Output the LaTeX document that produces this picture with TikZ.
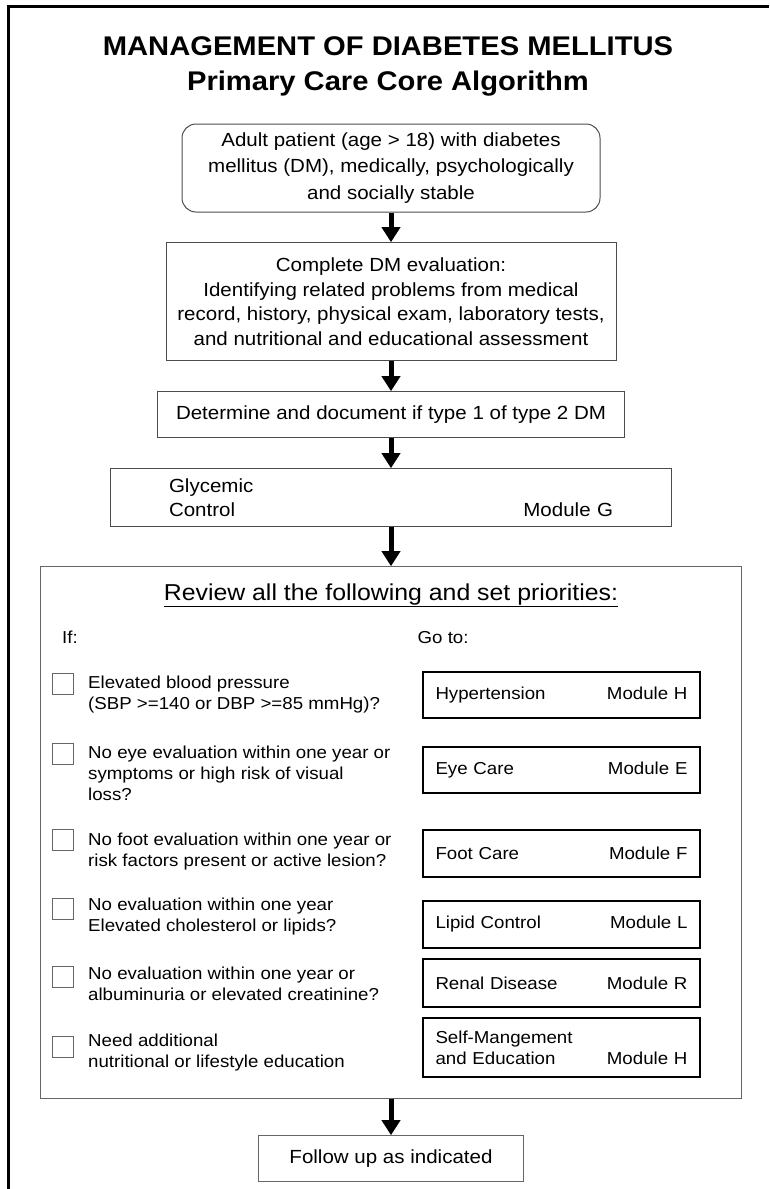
\documentclass[tikz,border=0pt]{standalone}
\usepackage{fontspec}
\setmainfont[FakeStretch=1.08]{Liberation Sans}
\usepackage{tikz}
\usetikzlibrary{arrows.meta,positioning}

\begin{document}
\begin{tikzpicture}[
    x=1pt, y=-1pt,
    box/.style={draw=black!70, line width=1pt, align=center, inner sep=0pt, font=\fontsize{19}{24.7}\selectfont},
    modbox/.style={draw=black, line width=1.8pt, align=left, text width=252pt, inner xsep=12.5pt, inner ysep=0pt, minimum height=46pt, font=\fontsize{17.3}{21}\selectfont},
    chk/.style={draw=black!60, line width=0.8pt, minimum size=21pt, inner sep=0pt},
    cond/.style={anchor=west, align=left, inner sep=0pt, font=\fontsize{17.3}{21}\selectfont},
    arr/.style={-{Triangle[width=18pt,length=15pt]}, line width=5pt},
    node distance=30pt
]
\useasboundingbox (0,0) rectangle (769,1189);
\draw[line width=3pt] (8,1189) -- (8,6) -- (769,6);

% title
\node[anchor=base, inner sep=0pt, font=\bfseries\fontsize{27}{36}\selectfont] (title) at (388,55) {MANAGEMENT OF DIABETES MELLITUS};
\node[anchor=base, inner sep=0pt, font=\bfseries\fontsize{27}{36}\selectfont] (subtitle) at (388,90) {Primary Care Core Algorithm};

% main chain
\node[box, rounded corners=14pt, minimum width=418pt, minimum height=88pt, font=\fontsize{19}{26.5}\selectfont] (patient) at (391,168) {Adult patient (age > 18) with diabetes\\mellitus (DM), medically, psychologically\\and socially stable};
\node[box, minimum width=450pt, minimum height=118pt, below=29.7pt of patient] (eval) {Complete DM evaluation:\\Identifying related problems from medical\\record, history, physical exam, laboratory tests,\\and nutritional and educational assessment};
\node[box, minimum width=467pt, minimum height=46pt, below=of eval] (type) {Determine and document if type 1 of type 2 DM};
\node[box, minimum width=561pt, minimum height=58pt, text width=444pt, align=left, below=of type] (glyc) {Glycemic\\Control\hfill Module G};
\node[draw=black!60, line width=1pt, minimum width=701pt, minimum height=532pt, below=39pt of glyc] (review) {};
\node[box, draw=black!60, minimum width=265pt, minimum height=46pt, below=36pt of review] (follow) {Follow up as indicated};

\draw[arr] (patient) -- (eval);
\draw[arr] (eval) -- (type);
\draw[arr] (type) -- (glyc);
\draw[arr] (glyc) -- (review);
\draw[arr] (review) -- (follow);

% review panel
\node[anchor=base, inner sep=0pt, font=\fontsize{23}{28}\selectfont] (head) at (391,600) {\underline{Review all the following and set priorities:}};
\node[cond, anchor=base west] (if) at (62,643) {If:};
\node[cond, anchor=base west] (goto) at (417.5,643) {Go to:};

\node[chk] (c1) at (62.5,683.5) {};
\node[cond] (q1) at (88,694.5) {Elevated blood pressure\\(SBP >=140 or DBP >=85 mmHg)?};
\node[modbox] (m1) at (561.5,695) {Hypertension\hfill Module H};

\node[chk] (c2) at (62.5,753.5) {};
\node[cond] (q2) at (88,773) {No eye evaluation within one year or\\symptoms or high risk of visual\\loss?};
\node[modbox] (m2) at (561.5,770) {Eye Care\hfill Module E};

\node[chk] (c3) at (62.5,840) {};
\node[cond] (q3) at (88,852) {No foot evaluation within one year or\\risk factors present or active lesion?};
\node[modbox, minimum height=47pt] (m3) at (561.5,853.5) {Foot Care\hfill Module F};

\node[chk] (c4) at (62.5,909) {};
\node[cond] (q4) at (88,917) {No evaluation within one year\\Elevated cholesterol or lipids?};
\node[modbox, minimum height=47pt] (m4) at (561.5,924.5) {Lipid Control\hfill Module L};

\node[chk] (c5) at (62.5,977) {};
\node[cond] (q5) at (88,984) {No evaluation within one year or\\albuminuria or elevated creatinine?};
\node[modbox, minimum height=48pt] (m5) at (561.5,983) {Renal Disease\hfill Module R};

\node[chk] (c6) at (62.5,1047) {};
\node[cond] (q6) at (88,1052.5) {Need additional\\nutritional or lifestyle education};
\node[modbox, minimum height=59pt] (m6) at (561.5,1047.5) {Self-Mangement\\and Education\hfill Module H};
\end{tikzpicture}
\end{document}
